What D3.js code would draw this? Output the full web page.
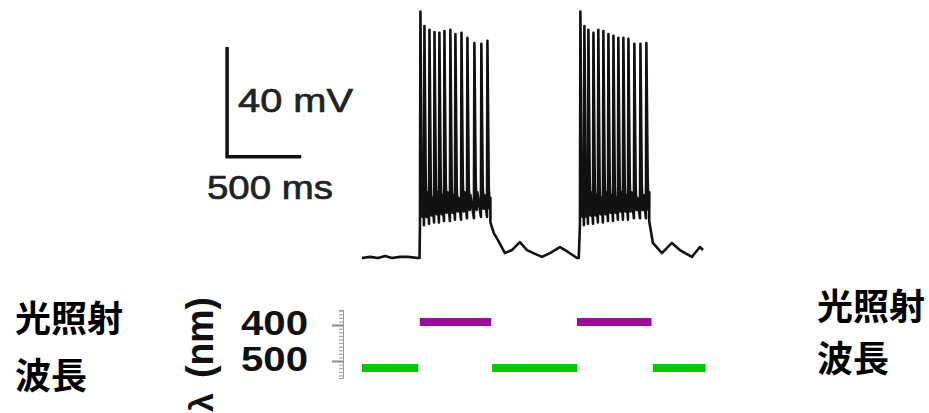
<!DOCTYPE html>
<html>
<head>
<meta charset="utf-8">
<script src="https://cdn.jsdelivr.net/npm/d3@7"></script>
<style>
  body { margin: 0; background: #fff; }
  svg { display: block; }
  .lat { font-family: "Liberation Sans", Arial, sans-serif; }
  .cjk { font-family: "Noto Sans CJK JP", sans-serif; font-weight: bold; }
</style>
</head>
<body>
<svg width="929" height="413"></svg>
<script>
// membrane potential trace (ms, mV)
var preTimes = [0, 54, 108, 155, 202, 256, 310, 378, 388];
var preVolts = [-62, -61.6, -62, -61.3, -62, -61.6, -61.6, -62, -62];

var burst1Times = [391, 418, 452, 486, 519, 553, 593, 627, 668, 708, 755, 802, 843];
var burst1Peaks = [28, 22.7, 21.3, 20.5, 20.2, 20.9, 21.3, 19.8, 20.2, 18.4, 16.5, 16.2, 17.3];
var burst1Troughs = [-50, -50, -49.5, -49, -49, -48.5, -48.5, -48, -48, -47.5, -47.5, -47, -47];
var burst1Shoulders = [-35, -34, -36, -34, -35, -34, -35, -36, -34, -35, -34, -35, -36];

var interTimes = [866, 890, 917, 964, 1011, 1065, 1113, 1167, 1214, 1268, 1335, 1389, 1450, 1462];
var interVolts = [-49, -53, -55.5, -60.2, -59.1, -56.2, -59.1, -60.5, -61.6, -60.2, -58, -59.8, -62, -62];

var burst2Times = [1470, 1497, 1524, 1558, 1591, 1625, 1659, 1693, 1726, 1760, 1794, 1834, 1875, 1915];
var burst2Peaks = [28, 22.7, 21.3, 20.2, 21.3, 20.9, 19.8, 19.1, 18.4, 18.4, 18, 16.2, 16.2, 16.5];
var burst2Troughs = [-50, -50, -49.5, -49.5, -49, -49, -48.5, -48.5, -48, -48, -48, -47.5, -47.5, -47.5];
var burst2Shoulders = [-35, -36, -34, -35, -36, -34, -35, -36, -34, -35, -34, -36, -35, -34];

var postTimes = [1937, 1962, 2023, 2090, 2144, 2225, 2279, 2300];
var postVolts = [-48.5, -56.5, -60.2, -56.5, -59.1, -61.6, -58, -59.1];

// light stimulation (wavelength nm, on ms, off ms)
var lightWave = [500, 400, 500, 400, 500];
var lightOn  = [0, 390, 878, 1450, 1962];
var lightOff = [380, 872, 1453, 1953, 2318];
var waveTicks = [400, 500];
var waveColor = {400: "#9b0c98", 500: "#0ac40a"};

var svg = d3.select('svg');

var x = d3.scaleLinear().domain([0, 2300]).range([362, 703]);
var y = d3.scaleLinear().domain([-62, 28]).range([258, 11.5]);
var row = d3.scalePoint().domain(waveTicks).range([322, 368]);
var wl = d3.scaleLinear().domain([400, 500]).range([325, 361]);

// build trace points
var pts = [];
preTimes.forEach(function (t, i) { pts.push([t, preVolts[i]]); });
function addBurst(times, peaks, troughs, shoulders) {
  times.forEach(function (t, i) {
    pts.push([t, troughs[i]]);
    pts.push([t + 3, peaks[i]]);
    pts.push([t + 12, shoulders[i]]);
    pts.push([t + 18, troughs[i] + 3]);
    pts.push([t + 23, shoulders[i] - 4]);
  });
}
addBurst(burst1Times, burst1Peaks, burst1Troughs, burst1Shoulders);
interTimes.forEach(function (t, i) { pts.push([t, interVolts[i]]); });
addBurst(burst2Times, burst2Peaks, burst2Troughs, burst2Shoulders);
postTimes.forEach(function (t, i) { pts.push([t, postVolts[i]]); });

var line = d3.line()
  .x(function (d) { return x(d[0]); })
  .y(function (d) { return y(d[1]); });

svg.append('path')
  .datum(pts)
  .attr('d', line)
  .attr('fill', 'none')
  .attr('stroke', '#111')
  .attr('stroke-width', 2.6)
  .attr('stroke-linejoin', 'round');

// scale bar: 40 mV / 500 ms
var sbT = -910, sbV = -25;
svg.append('path')
  .attr('d', d3.line()([[x(sbT), y(sbV + 40)], [x(sbT), y(sbV)], [x(sbT + 500), y(sbV)]]))
  .attr('fill', 'none')
  .attr('stroke', '#111')
  .attr('stroke-width', 3.5);

svg.append('text').attr('class', 'lat')
  .attr('x', 238).attr('y', 112)
  .attr('font-size', 34).attr('fill', '#222')
  .attr('stroke', '#222').attr('stroke-width', 0.7)
  .attr('textLength', 115).attr('lengthAdjust', 'spacingAndGlyphs')
  .text('40 mV');
svg.append('text').attr('class', 'lat')
  .attr('x', 207).attr('y', 199)
  .attr('font-size', 34).attr('fill', '#222')
  .attr('stroke', '#222').attr('stroke-width', 0.7)
  .attr('textLength', 126).attr('lengthAdjust', 'spacingAndGlyphs')
  .text('500 ms');

// light bars
svg.selectAll('rect.light')
  .data(lightWave)
  .enter()
  .append('rect')
  .attr('class', 'light')
  .attr('x', function (d, i) { return x(lightOn[i]); })
  .attr('width', function (d, i) { return x(lightOff[i]) - x(lightOn[i]); })
  .attr('y', function (d) { return row(d) - 4; })
  .attr('height', 8)
  .attr('fill', function (d) { return waveColor[d]; });

// wavelength axis
var minor = svg.append('g')
  .attr('transform', 'translate(343,0)')
  .call(d3.axisLeft(d3.scaleLinear().domain([358, 547]).range([310, 378]))
    .tickValues(d3.range(360, 550, 10)).tickSize(4).tickFormat(''));
minor.selectAll('line, path').attr('stroke', '#999');
var major = svg.append('g')
  .attr('transform', 'translate(343,0)')
  .call(d3.axisLeft(wl).tickValues(waveTicks).tickSize(11).tickFormat(''));
major.select('path').remove();
major.selectAll('line').attr('stroke', '#888').attr('stroke-width', 2);

svg.selectAll('text.wave')
  .data(waveTicks)
  .enter()
  .append('text')
  .attr('class', 'wave lat')
  .attr('x', 241)
  .attr('y', function (d) { return wl(d) + 10; })
  .attr('font-size', 35).attr('font-weight', 'bold').attr('fill', '#111')
  .attr('textLength', 67).attr('lengthAdjust', 'spacingAndGlyphs')
  .text(function (d) { return d; });

// rotated axis title: "λ (nm)"
svg.append('text').attr('class', 'lat')
  .attr('transform', 'translate(213,297) rotate(-90)')
  .attr('text-anchor', 'end')
  .attr('font-size', 38).attr('font-weight', 'bold').attr('fill', '#111')
  .attr('textLength', 81).attr('lengthAdjust', 'spacingAndGlyphs')
  .text('(nm)');
svg.append('text').attr('class', 'lat')
  .attr('transform', 'translate(213,412) rotate(-90)')
  .attr('font-size', 34).attr('font-weight', 'bold').attr('fill', '#111')
  .text('λ');

// side captions
var captions = [
  {x: 15, y1: 332, y2: 389},
  {x: 817, y1: 320, y2: 372}
];
captions.forEach(function (c) {
  svg.append('text').attr('class', 'cjk').attr('x', c.x).attr('y', c.y1)
    .attr('font-size', 36).text('光照射');
  svg.append('text').attr('class', 'cjk').attr('x', c.x).attr('y', c.y2)
    .attr('font-size', 36).text('波長');
});
</script>
</body>
</html>
